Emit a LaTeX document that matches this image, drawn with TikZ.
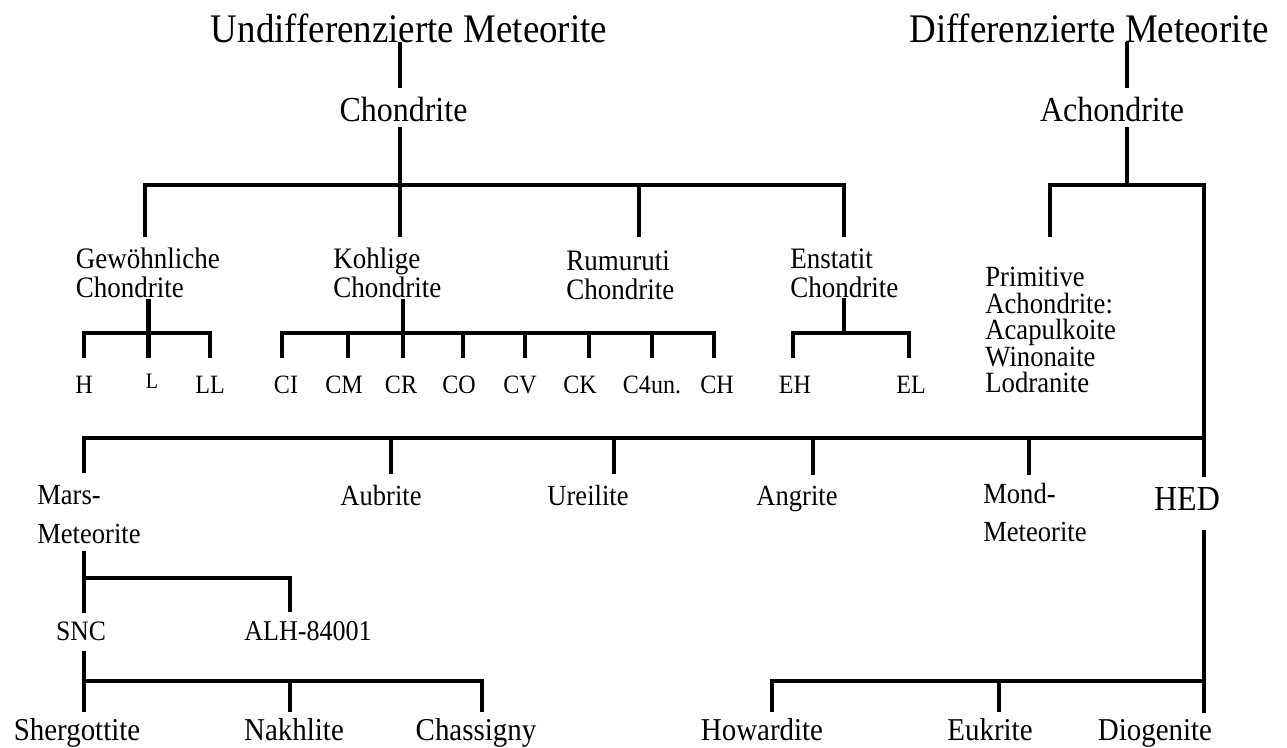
\documentclass[tikz,border=0pt]{standalone}
\usepackage{fontspec}
\setmainfont[FakeStretch=0.91]{Liberation Serif}
\usepackage{tikz}

\begin{document}
\begin{tikzpicture}[
    branch/.style={line width=2.8pt},
    title/.style={inner sep=0pt, font=\fontsize{23.1}{27}\selectfont},
    head/.style={inner sep=0pt, font=\fontsize{20}{24}\selectfont},
    group/.style={inner sep=0pt, align=left, font=\fontsize{16.9}{16.5}\selectfont},
    kind/.style={inner sep=0pt, font=\fontsize{15.05}{18}\selectfont},
    leaf/.style={inner sep=0pt, align=left, font=\fontsize{16.6}{21.8}\selectfont},
    sub/.style={inner sep=0pt, font=\fontsize{18.1}{22}\selectfont}]
        \useasboundingbox (0,0) rectangle (25.74,-14.94);

        % Top level
        \node[title, anchor=base] (undiff) at (8.18,-0.84) {Undifferenzierte Meteorite};
        \node[title, anchor=base] (diff) at (21.78,-0.84) {Differenzierte Meteorite};
        \node[head, anchor=base] (chon) at (8.07,-2.42) {Chondrite};
        \node[head, anchor=base] (achon) at (22.24,-2.42) {Achondrite};

        \coordinate (c0) at (8.0,-3.7);
        \coordinate (a0) at (22.54,-3.7);
        \draw[branch, shorten >=4.6pt] (undiff.base -| c0) -- (chon.north -| c0);
        \draw[branch, shorten <=3.2pt] (chon.south -| c0) -- (c0);
        \draw[branch, shorten >=4.6pt] (diff.base -| a0) -- (achon.north -| a0);
        \draw[branch, shorten <=3.2pt] (achon.south -| a0) -- (a0);

        % Chondrite groups
        \node[group, anchor=north west] (gew) at (1.51,-4.96) {Gewöhnliche\\Chondrite};
        \node[group, anchor=north west] (kohl) at (6.66,-4.96) {Kohlige\\Chondrite};
        \node[group, anchor=north west] (rum) at (11.32,-5.0) {Rumuruti\\Chondrite};
        \node[group, anchor=north west] (enst) at (15.8,-4.96) {Enstatit\\Chondrite};

        \coordinate (c1) at (2.9,-3.7);
        \coordinate (c3) at (12.78,-3.7);
        \coordinate (c4) at (16.88,-3.7);
        \draw[branch, shorten <=6.1pt, shorten >=6.1pt] (c1 |- gew.north) -- (c1) -- (c4) -- (c4 |- enst.north);
        \draw[branch, shorten >=6.1pt] (c0) -- (c0 |- kohl.north);
        \draw[branch, shorten >=7.3pt] (c3) -- (c3 |- rum.north);

        % Gewoehnliche Chondrite
        \node[kind, anchor=base] (h) at (1.68,-7.86) {H};
        \node[inner sep=0pt, font=\fontsize{12.5}{15}\selectfont, anchor=base] (l) at (3.04,-7.76) {L};
        \node[kind, anchor=base] (ll) at (4.2,-7.86) {LL};

        \coordinate (g0) at (2.97,-6.66);
        \coordinate (g1) at (1.68,-6.66);
        \coordinate (g3) at (4.2,-6.66);
        \draw[branch] (gew.south -| g0) -- (g0);
        \draw[branch, shorten <=10pt, shorten >=10pt] (h.north -| g1) -- (g1) -- (g3) -- (ll.north -| g3);
        \draw[branch, shorten >=8.8pt] (g0) -- (g0 |- l.north);

        % Kohlige Chondrite
        \node[kind, anchor=base] (ci) at (5.72,-7.86) {CI};
        \node[kind, anchor=base] (cm) at (6.88,-7.86) {CM};
        \node[kind, anchor=base] (cr) at (8.02,-7.86) {CR};
        \node[kind, anchor=base] (co) at (9.18,-7.86) {CO};
        \node[kind, anchor=base] (cv) at (10.4,-7.86) {CV};
        \node[kind, anchor=base] (ck) at (11.6,-7.86) {CK};
        \node[kind, anchor=base] (c4un) at (13.04,-7.86) {C4un.};
        \node[kind, anchor=base] (ch) at (14.34,-7.86) {CH};

        \coordinate (k1) at (5.64,-6.66);
        \coordinate (k2) at (6.96,-6.66);
        \coordinate (k3) at (8.06,-6.66);
        \coordinate (k4) at (9.26,-6.66);
        \coordinate (k5) at (10.5,-6.66);
        \coordinate (k6) at (11.78,-6.66);
        \coordinate (k7) at (13.04,-6.66);
        \coordinate (k8) at (14.28,-6.66);
        \draw[branch] (kohl.south -| k3) -- (k3);
        \draw[branch, shorten <=10pt, shorten >=10pt] (ci.north -| k1) -- (k1) -- (k8) -- (ch.north -| k8);
        \foreach \k/\n in {k2/cm, k3/cr, k4/co, k5/cv, k6/ck, k7/c4un}
            \draw[branch, shorten >=10pt] (\k) -- (\k |- \n.north);

        % Enstatit Chondrite
        \node[kind, anchor=base] (eh) at (15.9,-7.86) {EH};
        \node[kind, anchor=base] (el) at (18.22,-7.86) {EL};

        \coordinate (e0) at (16.88,-6.66);
        \coordinate (e1) at (15.86,-6.66);
        \coordinate (e2) at (18.18,-6.66);
        \draw[branch] (enst.south -| e0) -- (e0);
        \draw[branch, shorten <=10pt, shorten >=10pt] (eh.north -| e1) -- (e1) -- (e2) -- (el.north -| e2);

        % Achondrite
        \node[inner sep=0pt, align=left, font=\fontsize{16.7}{15.1}\selectfont, anchor=north west] (prim) at (19.7,-5.34)
            {Primitive\\Achondrite:\\Acapulkoite\\Winonaite\\Lodranite};
        \node[head, anchor=base] (hed) at (23.74,-10.2) {HED};

        \coordinate (a1) at (21.0,-3.7);
        \coordinate (a2) at (24.08,-3.7);
        \draw[branch, shorten <=17.1pt, shorten >=5.5pt] (a1 |- prim.north) -- (a1) -- (a2) -- (a2 |- hed.north);

        % Achondrite classes
        \node[leaf, anchor=north west] (mars) at (0.74,-9.71) {Mars-\\Meteorite};
        \node[leaf, anchor=base] (aub) at (7.62,-10.1) {Aubrite};
        \node[leaf, anchor=base] (ure) at (11.76,-10.1) {Ureilite};
        \node[leaf, anchor=base] (ang) at (15.94,-10.1) {Angrite};
        \node[leaf, anchor=north west] (mond) at (19.66,-9.66) {Mond-\\Meteorite};

        \coordinate (m1) at (1.68,-8.76);
        \coordinate (m2) at (7.82,-8.76);
        \coordinate (m3) at (12.28,-8.76);
        \coordinate (m4) at (16.26,-8.76);
        \coordinate (m5) at (20.58,-8.76);
        \coordinate (m6) at (24.08,-8.76);
        \draw[branch, shorten <=7.2pt] (mars.north -| m1) -- (m1) -- (m6);
        \draw[branch, shorten >=5.7pt] (m2) -- (m2 |- aub.north);
        \draw[branch, shorten >=5.7pt] (m3) -- (m3 |- ure.north);
        \draw[branch, shorten >=5.7pt] (m4) -- (m4 |- ang.north);
        \draw[branch, shorten >=4.6pt] (m5) -- (m5 |- mond.north);

        % Mars-Meteorite
        \node[leaf, font=\fontsize{16}{19}\selectfont, anchor=base] (snc) at (1.62,-12.8) {SNC};
        \node[leaf, font=\fontsize{16.3}{19}\selectfont, anchor=base] (alh) at (6.16,-12.8) {ALH-84001};

        \coordinate (s1) at (1.68,-11.56);
        \coordinate (s2) at (5.8,-11.56);
        \draw[branch, shorten <=4pt, shorten >=4.7pt] (mars.south -| s1) -- (s1 |- snc.north);
        \draw[branch, shorten >=4.7pt] (s1) -- (s2) -- (s2 |- alh.north);

        % SNC
        \node[sub, anchor=base] (sherg) at (1.54,-14.8) {Shergottite};
        \node[sub, anchor=base] (nakh) at (5.88,-14.8) {Nakhlite};
        \node[sub, anchor=base] (chass) at (9.52,-14.8) {Chassigny};

        \coordinate (n1) at (1.68,-13.62);
        \coordinate (n2) at (5.8,-13.62);
        \coordinate (n3) at (9.64,-13.62);
        \draw[branch, shorten <=5.7pt, shorten >=3pt] (snc.south -| n1) -- (n1 |- sherg.north);
        \draw[branch, shorten >=3pt] (n1) -- (n3) -- (n3 |- chass.north);
        \draw[branch, shorten >=3pt] (n2) -- (n2 |- nakh.north);

        % HED
        \node[sub, anchor=base] (how) at (15.24,-14.8) {Howardite};
        \node[sub, anchor=base] (euk) at (19.8,-14.8) {Eukrite};
        \node[sub, anchor=base] (dio) at (23.1,-14.8) {Diogenite};

        \coordinate (h1) at (15.44,-13.62);
        \coordinate (h2) at (19.98,-13.62);
        \coordinate (h3) at (24.08,-13.62);
        \draw[branch, shorten <=11.4pt, shorten >=3pt] (hed.south -| h3) -- (h3 |- dio.north);
        \draw[branch, shorten >=3pt] (h3) -- (h1) -- (h1 |- how.north);
        \draw[branch, shorten >=3pt] (h2) -- (h2 |- euk.north);
    \end{tikzpicture}
\end{document}
